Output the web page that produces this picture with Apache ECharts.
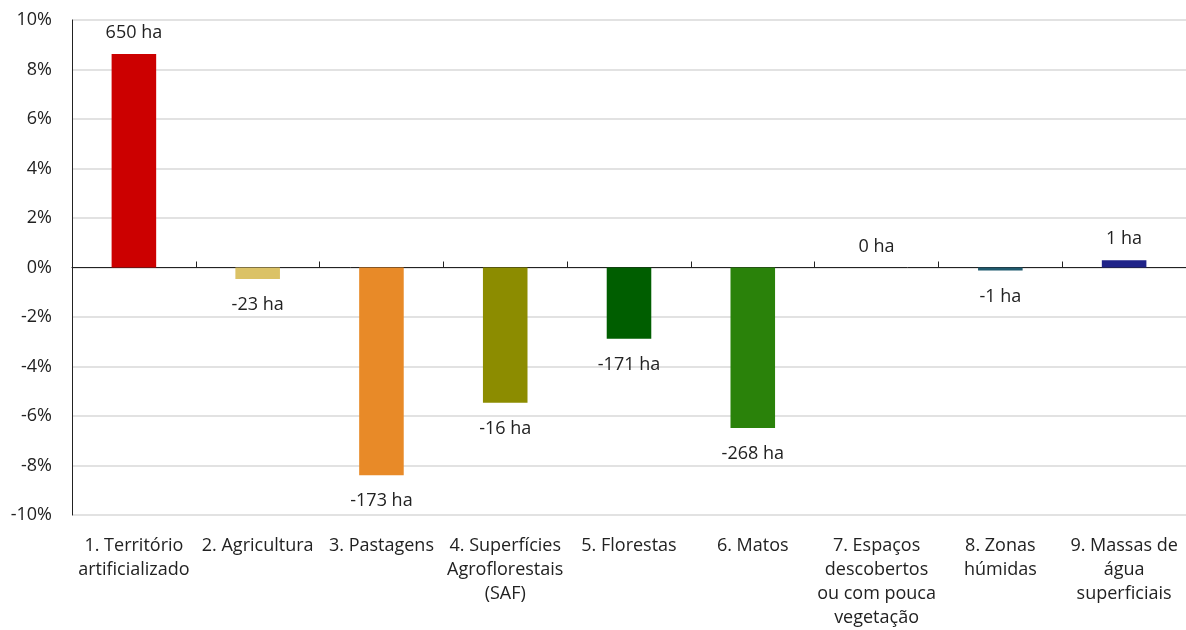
<!DOCTYPE html>
<html>
<head>
<meta charset="utf-8">
<script src="https://cdn.jsdelivr.net/npm/echarts@6/dist/echarts.min.js"></script>
<style>
html,body{margin:0;padding:0;background:#fff;}
#chart{width:1186px;height:630px;}
</style>
</head>
<body>
<div id="chart"></div>
<script>
// Data
const categories = [
  '1. Território\nartificializado',
  '2. Agricultura',
  '3. Pastagens',
  '4. Superfícies\nAgroflorestais\n(SAF)',
  '5. Florestas',
  '6. Matos',
  '7. Espaços\ndescobertos\nou com pouca\nvegetação',
  '8. Zonas\nhúmidas',
  '9. Massas de\nágua\nsuperficiais'
];
const pctChange = [8.63, -0.46, -8.39, -5.46, -2.88, -6.48, 0, -0.12, 0.29];
const haChange = [650, -23, -173, -16, -171, -268, 0, -1, 1];
const barColors = ['#CC0000', '#DBC266', '#E88A28', '#8C8C00', '#005E00', '#2A820A', '#888888', '#1F5A6E', '#1F2388'];
const yTicks = { min: -10, max: 10, interval: 2 };

const FONT = 'Open Sans';
const TEXT = '#222';

const seriesData = pctChange.map((v, i) => ({
  value: v,
  itemStyle: { color: barColors[i] },
  label: {
    show: true,
    position: v >= 0 ? 'top' : 'bottom',
    distance: v >= 0 ? 12 : 17,
    formatter: haChange[i] + ' ha',
    fontFamily: FONT, fontSize: 18, color: TEXT
  }
}));

const chart = echarts.init(document.getElementById('chart'), null, { renderer: 'canvas' });
chart.setOption({
  animation: false,
  backgroundColor: '#fff',
  grid: { left: 72, right: 0, top: 20, bottom: 114, containLabel: false },
  xAxis: [
    {
      type: 'category', data: categories, position: 'bottom',
      axisLine: { show: false, onZero: false }, axisTick: { show: false },
      axisLabel: { interval: 0, margin: 19, fontFamily: FONT, fontSize: 18, color: TEXT, lineHeight: 24 },
      splitLine: { show: false }
    },
    {
      type: 'category', data: categories, position: 'bottom',
      axisLine: { show: true, onZero: true, lineStyle: { color: '#222', width: 1 } },
      axisTick: { show: true, inside: true, length: 6, lineStyle: { color: '#222' } },
      axisLabel: { show: false },
      splitLine: { show: false }
    }
  ],
  yAxis: {
    type: 'value', min: yTicks.min, max: yTicks.max, interval: yTicks.interval,
    axisLine: { show: true, lineStyle: { color: '#222', width: 1 } },
    axisTick: { show: false },
    axisLabel: { formatter: '{value}%', margin: 20, fontFamily: FONT, fontSize: 18, color: TEXT },
    splitLine: { show: true, lineStyle: { color: '#d9d9d9', width: 1.5 } }
  },
  series: [{
    type: 'bar', xAxisIndex: 0, data: seriesData, barWidth: '36%'
  }]
});
</script>
</body>
</html>
